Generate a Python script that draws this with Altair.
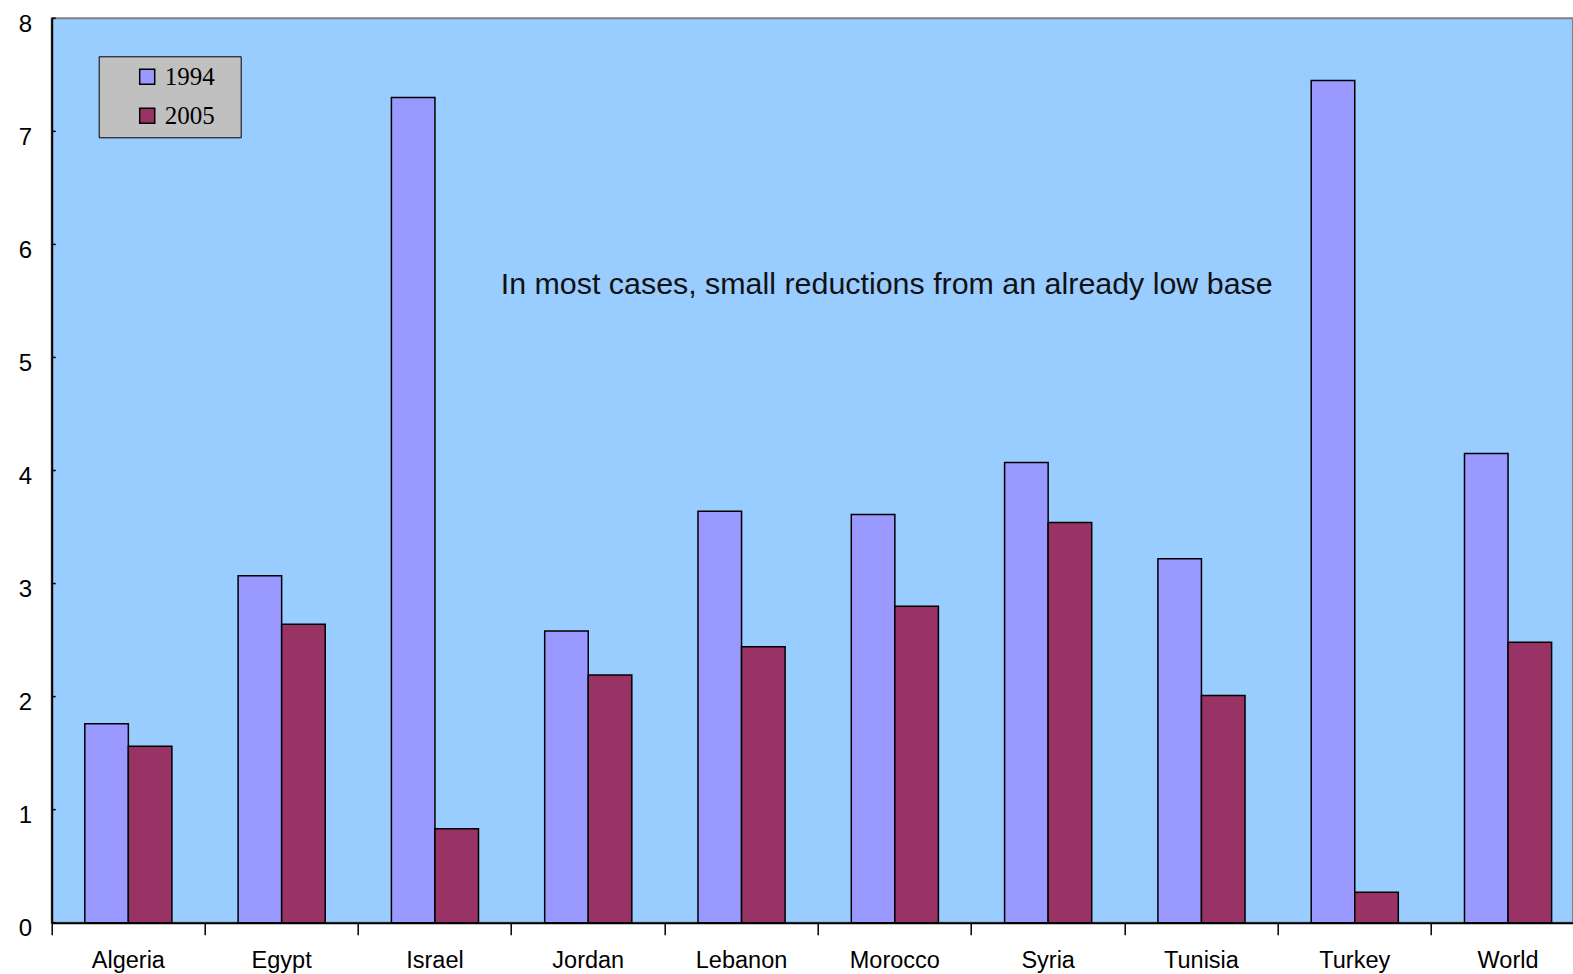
import altair as alt
import pandas as pd

countries = ["Algeria", "Egypt", "Israel", "Jordan", "Lebanon", "Morocco",
             "Syria", "Tunisia", "Turkey", "World"]
v1994 = [1.76, 3.07, 7.30, 2.58, 3.64, 3.61, 4.07, 3.22, 7.45, 4.15]
v2005 = [1.56, 2.64, 0.83, 2.19, 2.44, 2.80, 3.54, 2.01, 0.27, 2.48]
years = ["1994", "2005"]
colors = ["#9999FF", "#993366"]
y_ticks = [0, 1, 2, 3, 4, 5, 6, 7, 8]
note = "In most cases, small reductions from an already low base"

rows = []
for c, a, b in zip(countries, v1994, v2005):
    rows.append({"country": c, "year": years[0], "value": a})
    rows.append({"country": c, "year": years[1], "value": b})
df = pd.DataFrame(rows)

W = 1521.3
H = 904.4
STEP_RANGE = 1533

x_scale = alt.Scale(domain=countries, range=[0, STEP_RANGE], paddingInner=0, paddingOuter=0)
y_scale = alt.Scale(domain=[0, 8], nice=False)

bars = alt.Chart(df).mark_bar(stroke="black", strokeWidth=1.5).encode(
    x=alt.X("country:N", scale=x_scale, sort=countries,
            axis=alt.Axis(title=None, bandPosition=0, labelAngle=0,
                          tickSize=12, tickColor="black", tickWidth=1.5,
                          domainColor="black", domainWidth=2,
                          labelFont="Liberation Sans", labelFontSize=23.5, labelColor="black",
                          labelPadding=14, grid=False)),
    xOffset=alt.XOffset("year:N", scale=alt.Scale(domain=years, paddingOuter=0.76, paddingInner=0)),
    y=alt.Y("value:Q", scale=y_scale,
            axis=alt.Axis(title=None, values=y_ticks, format="d", ticks=False, tickSize=0,
                          domainColor="black", domainWidth=2, grid=False,
                          labelFont="Liberation Sans", labelFontSize=24, labelColor="black",
                          labelPadding=20, labelOffset=6)),
    color=alt.Color("year:N", scale=alt.Scale(domain=years, range=colors),
                    legend=alt.Legend(title=None, orient="none", legendX=47, legendY=38,
                                      fillColor="#C0C0C0", strokeColor="black",
                                      padding=8, symbolOffset=28,
                                      symbolType="square", symbolSize=225,
                                      symbolStrokeColor="black", symbolStrokeWidth=1.5,
                                      labelExpr="datum.label + '\u2800'",
                                      labelFont="Liberation Serif", labelFontSize=25,
                                      labelColor="black", labelOffset=5, rowPadding=13)),
)

tick_df = pd.DataFrame({"t": y_ticks})
yticks = alt.Chart(tick_df).mark_rule(color="black", strokeWidth=1.5).encode(
    y=alt.Y("t:Q", scale=y_scale),
    x=alt.value(0), x2=alt.value(4),
)

text = alt.Chart(pd.DataFrame({"label": [note]})).mark_text(
    font="Liberation Sans", fontSize=30.4, color="#111111", align="center", baseline="middle"
).encode(
    text="label:N", x=alt.value(835), y=alt.value(267)
)

chart = alt.layer(bars, yticks, text).properties(
    width=W, height=H,
    autosize=alt.AutoSizeParams(type="none"),
    padding={"left": 51.7, "top": 18.3, "right": 0, "bottom": 51.3},
    background="white",
).configure_view(fill="#99CCFF", stroke="#808080", strokeWidth=2)

chart.save("out.html", embed_options={"renderer": "svg", "actions": False})
